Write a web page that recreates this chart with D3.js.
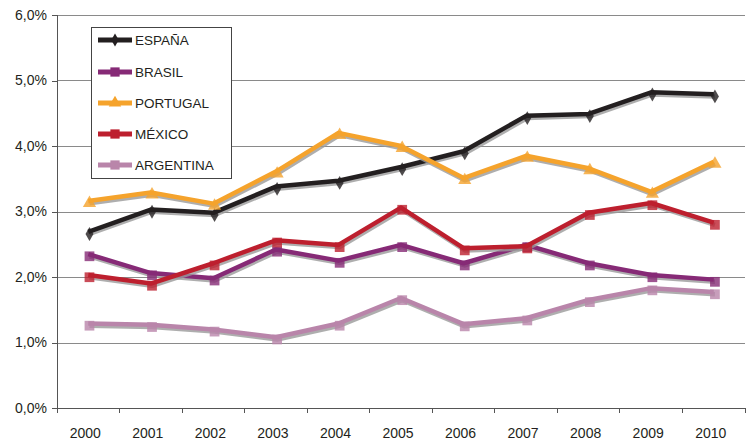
<!DOCTYPE html>
<html>
<head>
<meta charset="utf-8">
<script src="https://cdn.jsdelivr.net/npm/d3@7"></script>
<style>
  html, body { margin: 0; padding: 0; background: #fff; }
  svg { display: block; font-family: "Liberation Sans", Arial, sans-serif; }
</style>
</head>
<body>
<svg id="chart" width="749" height="440"></svg>
<script>
const years = ["2000","2001","2002","2003","2004","2005","2006","2007","2008","2009","2010"];
const yTicks = [0, 1, 2, 3, 4, 5, 6];
const seriesNames = ["ESPAÑA", "BRASIL", "PORTUGAL", "MÉXICO", "ARGENTINA"];
const espana    = [2.69, 3.03, 2.98, 3.38, 3.47, 3.68, 3.92, 4.46, 4.49, 4.82, 4.79];
const brasil    = [2.35, 2.06, 1.98, 2.42, 2.25, 2.49, 2.21, 2.49, 2.21, 2.03, 1.96];
const portugal  = [3.16, 3.29, 3.12, 3.61, 4.20, 4.00, 3.51, 3.85, 3.66, 3.30, 3.76];
const mexico    = [2.03, 1.90, 2.21, 2.56, 2.49, 3.06, 2.44, 2.47, 2.98, 3.13, 2.83];
const argentina = [1.29, 1.27, 1.20, 1.08, 1.29, 1.68, 1.28, 1.37, 1.65, 1.83, 1.77];

const colors = ["#231f20", "#862a76", "#f5a32c", "#bd1f2e", "#b985aa"];
const shapes = ["diamond", "square", "triangle", "square", "square"];
const allValues = [espana, brasil, portugal, mexico, argentina];

const svg = d3.select("#chart");
const mLeft = 57, mRight = 745, mTop = 15, mBottom = 408;

const x = d3.scaleBand().domain(years).range([mLeft, mRight]);
const y = d3.scaleLinear().domain([0, 6]).range([mBottom, mTop]);

const textColor = "#231f20";

// gridlines
svg.append("g").selectAll("line").data(yTicks.filter(d => d > 0)).join("line")
  .attr("x1", mLeft).attr("x2", mRight)
  .attr("y1", d => Math.round(y(d)) + 0.5).attr("y2", d => Math.round(y(d)) + 0.5)
  .attr("stroke", "#8a8a8a").attr("stroke-width", 1);

// y axis
const yAxis = svg.append("g").attr("transform", `translate(${mLeft},0)`)
  .call(d3.axisLeft(y).tickValues(yTicks).tickSize(5).tickPadding(5)
    .tickFormat(d => d3.format(".1f")(d).replace(".", ",") + "%"));
yAxis.select(".domain").attr("stroke", "#555").attr("shape-rendering", "crispEdges");
yAxis.selectAll(".tick line").attr("stroke", "#555").attr("shape-rendering", "crispEdges");
yAxis.selectAll("text").attr("font-size", 14).attr("fill", textColor)
  .attr("font-family", "'Liberation Sans', Arial, sans-serif");

// x axis
const xAxis = svg.append("g").attr("transform", `translate(0,${mBottom})`)
  .call(d3.axisBottom(x).tickSize(0).tickPadding(20));
xAxis.select(".domain").attr("stroke", "#555").attr("shape-rendering", "crispEdges");
xAxis.selectAll("text").attr("font-size", 14).attr("fill", textColor)
  .attr("font-family", "'Liberation Sans', Arial, sans-serif")
  .attr("dx", -3);
// band boundary ticks
const boundaries = years.map(d => x(d)).concat([x(years[years.length - 1]) + x.bandwidth()]);
xAxis.selectAll(".bt").data(boundaries).join("line").attr("class", "bt")
  .attr("x1", d => d).attr("x2", d => d).attr("y1", 0).attr("y2", 5)
  .attr("stroke", "#555").attr("shape-rendering", "crispEdges");

const cx = d => x(d) + x.bandwidth() / 2;

function markerPath(shape, scale) {
  if (shape === "diamond") return d3.symbol(d3.symbolDiamond, 55 * scale)();
  if (shape === "triangle") return d3.symbol(d3.symbolTriangle, 75 * scale)();
  return d3.symbol(d3.symbolSquare, 95 * scale)();
}

const line = d3.line().x((d, i) => cx(years[i])).y(d => y(d));

const plot = svg.append("g");
allValues.forEach((vals, si) => {
  const g = plot.append("g");
  // shadow
  const sh = g.append("g").attr("transform", "translate(1.2,2.2)");
  sh.append("path").datum(vals).attr("d", line)
    .attr("fill", "none").attr("stroke", "#9a9a9a").attr("stroke-width", 4.5)
    .attr("stroke-linejoin", "round").attr("opacity", 0.8);
  sh.selectAll("path.m").data(vals).join("path").attr("class", "m")
    .attr("d", markerPath(shapes[si], 1))
    .attr("transform", (d, i) => `translate(${cx(years[i])},${y(d)})`)
    .attr("fill", "#9a9a9a").attr("opacity", 0.8);
  // main
  g.append("path").datum(vals).attr("d", line)
    .attr("fill", "none").attr("stroke", colors[si]).attr("stroke-width", 4.5)
    .attr("stroke-linejoin", "round");
  g.selectAll("path.m").data(vals).join("path").attr("class", "m")
    .attr("d", markerPath(shapes[si], 1))
    .attr("transform", (d, i) => `translate(${cx(years[i])},${y(d)})`)
    .attr("fill", colors[si]);
});

// legend
const lg = svg.append("g");
lg.append("rect").attr("x", 91.5).attr("y", 27.5).attr("width", 140).attr("height", 151)
  .attr("fill", "#fff").attr("stroke", "#444").attr("stroke-width", 1);
const legY = [40, 72, 103, 134, 165];
seriesNames.forEach((name, si) => {
  const ly = legY[si];
  lg.append("line").attr("x1", 98).attr("x2", 132).attr("y1", ly).attr("y2", ly)
    .attr("stroke", colors[si]).attr("stroke-width", 5);
  lg.append("path").attr("d", markerPath(shapes[si], 0.9))
    .attr("transform", `translate(115,${ly})`).attr("fill", colors[si]);
  lg.append("text").attr("x", 135).attr("y", ly + 5).text(name)
    .attr("font-size", 13.5).attr("fill", textColor);
});
</script>
</body>
</html>
